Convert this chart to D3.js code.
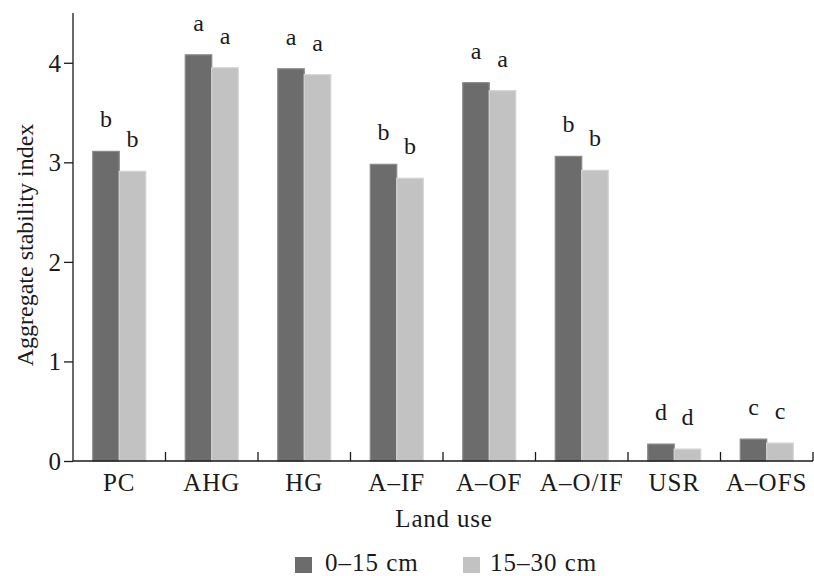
<!DOCTYPE html>
<html>
<head>
<meta charset="utf-8">
<script src="https://cdn.jsdelivr.net/npm/d3@7"></script>
<style>
  html, body { margin: 0; padding: 0; background: #fff; }
  svg { display: block; }
  text { font-family: "Liberation Serif", "Times New Roman", serif; fill: #1a1a1a; }
</style>
</head>
<body>
<svg id="chart" width="814" height="576"></svg>
<script>
// Land-use categories and aggregate stability index by soil depth
const categories = ["PC", "AHG", "HG", "A\u2013IF", "A\u2013OF", "A\u2013O/IF", "USR", "A\u2013OFS"];
const depth0to15 = [3.11, 4.08, 3.94, 2.98, 3.80, 3.06, 0.17, 0.22];
const depth15to30 = [2.91, 3.95, 3.88, 2.84, 3.72, 2.92, 0.12, 0.18];
const letters0to15 = ["b", "a", "a", "b", "a", "b", "d", "c"];
const letters15to30 = ["b", "a", "a", "b", "a", "b", "d", "c"];
const seriesNames = ["0\u201315 cm", "15\u201330 cm"];
const yTicks = [0, 1, 2, 3, 4];

const colors = ["#6c6c6c", "#c2c2c2"];
const edges = ["#8a8a8a", "#d4d4d4"];
const FS = 25;

const svg = d3.select("#chart");
const margin = { left: 73, right: 1, top: 13, bottom: 115 };
const width = 814, height = 576;
const plotBottom = height - margin.bottom;

const x = d3.scaleBand()
  .domain(categories)
  .range([margin.left, width - margin.right])
  .paddingInner(0)
  .paddingOuter(0);

const y = d3.scaleLinear().domain([0, 4.5]).range([plotBottom, margin.top]);

const barW = 26.5;

const series = [
  { values: depth0to15, letters: letters0to15, offset: -barW },
  { values: depth15to30, letters: letters15to30, offset: 0 }
];

const g = svg.append("g");

series.forEach((s, si) => {
  g.selectAll(null)
    .data(categories)
    .enter()
    .append("rect")
    .attr("x", d => x(d) + x.bandwidth() / 2 + s.offset)
    .attr("y", (d, i) => y(s.values[i]))
    .attr("width", barW)
    .attr("height", (d, i) => y(0) - y(s.values[i]))
    .attr("fill", colors[si])
    .attr("stroke", edges[si])
    .attr("stroke-width", 1.2);

  g.selectAll(null)
    .data(categories)
    .enter()
    .append("text")
    .attr("x", d => x(d) + x.bandwidth() / 2 + s.offset + barW / 2)
    .attr("y", (d, i) => y(s.values[i]) - 24)
    .attr("text-anchor", "middle")
    .style("font-size", "24px")
    .text((d, i) => s.letters[i]);
});

// Y axis
const yAxis = d3.axisLeft(y).tickValues(yTicks).tickFormat(d3.format("d")).tickSize(9).tickPadding(6);
const yg = svg.append("g").attr("transform", `translate(${margin.left},0)`).call(yAxis);
yg.attr("font-size", null).attr("font-family", null);
yg.select(".domain").attr("d", `M0,${y(4.5)}V${plotBottom}`)
  .attr("stroke", "#1a1a1a").attr("stroke-width", 1.3);
yg.selectAll(".tick line").attr("stroke", "#1a1a1a").attr("stroke-width", 1.3);
yg.selectAll(".tick text")
  .style("font-size", FS + "px")
  .attr("fill", "#1a1a1a")
  .attr("x", -12)
  .attr("dy", "0.34em");

// X axis with ticks at band boundaries
const xg = svg.append("g").attr("transform", `translate(0,${plotBottom})`);
xg.append("line")
  .attr("x1", margin.left).attr("x2", width - margin.right)
  .attr("stroke", "#1a1a1a").attr("stroke-width", 1.3);
xg.selectAll(".bt")
  .data(categories)
  .enter()
  .append("line")
  .attr("x1", d => x(d) + x.bandwidth())
  .attr("x2", d => x(d) + x.bandwidth())
  .attr("y1", 0).attr("y2", -9)
  .attr("stroke", "#1a1a1a").attr("stroke-width", 1.3);
xg.selectAll(".cl")
  .data(categories)
  .enter()
  .append("text")
  .attr("x", d => x(d) + x.bandwidth() / 2)
  .attr("y", 30)
  .attr("text-anchor", "middle")
  .style("font-size", FS + "px")
  .style("letter-spacing", "1px")
  .text(d => d);

// Axis titles
svg.append("text")
  .attr("x", 444)
  .attr("y", 527)
  .attr("text-anchor", "middle")
  .style("font-size", FS + "px")
  .style("letter-spacing", "0.8px")
  .text("Land use");

svg.append("text")
  .attr("transform", `translate(33,${(plotBottom + margin.top) / 2 + 8}) rotate(-90)`)
  .attr("text-anchor", "middle")
  .style("font-size", "24px")
  .text("Aggregate stability index");

// Legend
const legendItems = [
  { label: seriesNames[0], color: colors[0], x: 295, tx: 325 },
  { label: seriesNames[1], color: colors[1], x: 463, tx: 490 }
];
const lg = svg.append("g");
legendItems.forEach(it => {
  lg.append("rect")
    .attr("x", it.x).attr("y", 557)
    .attr("width", 17).attr("height", 16)
    .attr("fill", it.color);
  lg.append("text")
    .attr("x", it.tx).attr("y", 571)
    .style("font-size", FS + "px")
    .style("letter-spacing", "1px")
    .text(it.label);
});
</script>
</body>
</html>
